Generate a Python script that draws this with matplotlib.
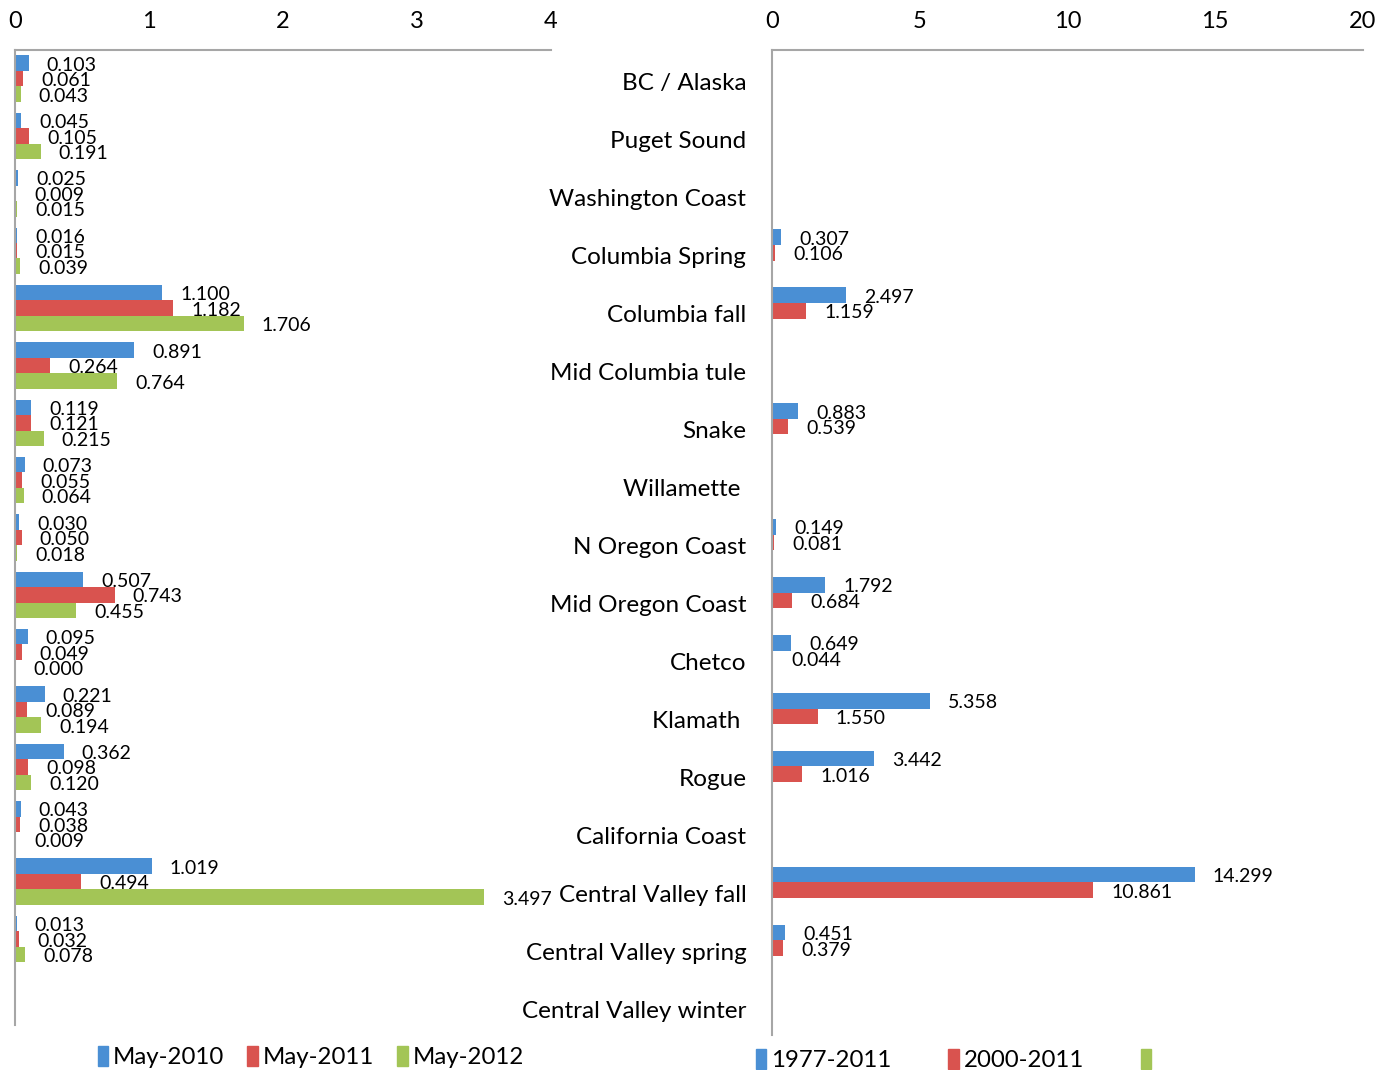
import numpy as np
import matplotlib
matplotlib.use("Agg")
import matplotlib.pyplot as plt
import matplotlib.transforms as mtransforms
from matplotlib.patches import Patch

plt.rcParams['font.family'] = ['Lato', 'DejaVu Sans']

categories = ["BC / Alaska", "Puget Sound", "Washington Coast", "Columbia Spring",
              "Columbia fall", "Mid Columbia tule", "Snake", "Willamette ",
              "N Oregon Coast", "Mid Oregon Coast", "Chetco", "Klamath ",
              "Rogue", "California Coast", "Central Valley fall",
              "Central Valley spring", "Central Valley winter"]

# left panel: May samples
may_2010 = [0.103, 0.045, 0.025, 0.016, 1.100, 0.891, 0.119, 0.073, 0.030,
            0.507, 0.095, 0.221, 0.362, 0.043, 1.019, 0.013, np.nan]
may_2011 = [0.061, 0.105, 0.009, 0.015, 1.182, 0.264, 0.121, 0.055, 0.050,
            0.743, 0.049, 0.089, 0.098, 0.038, 0.494, 0.032, np.nan]
may_2012 = [0.043, 0.191, 0.015, 0.039, 1.706, 0.764, 0.215, 0.064, 0.018,
            0.455, 0.000, 0.194, 0.120, 0.009, 3.497, 0.078, np.nan]
left_labels = ["May-2010", "May-2011", "May-2012"]

# right panel: long term periods
p_1977_2011 = [np.nan, np.nan, np.nan, 0.307, 2.497, np.nan, 0.883, np.nan, 0.149,
               1.792, 0.649, 5.358, 3.442, np.nan, 14.299, 0.451, np.nan]
p_2000_2011 = [np.nan, np.nan, np.nan, 0.106, 1.159, np.nan, 0.539, np.nan, 0.081,
               0.684, 0.044, 1.550, 1.016, np.nan, 10.861, 0.379, np.nan]
p_empty = [np.nan] * 17
right_labels = ["1977-2011", "2000-2011", ""]

colors = ["#4a8fd4", "#d9534f", "#a3c556"]
gray = "#a6a6a6"

fig = plt.figure(figsize=(13.87, 10.70), dpi=100)
ax1 = fig.add_axes([15 / 1387, 1 - 1025 / 1070, 536 / 1387, 975 / 1070])
ax2 = fig.add_axes([772 / 1387, 1 - 1035 / 1070, 591 / 1387, 985 / 1070])

y = np.arange(len(categories))
h = 0.27


def draw(ax, series, xmax, step):
    for k, vals in enumerate(series):
        vals = np.array(vals, dtype=float)
        pos = y + (k - 1) * h
        ax.barh(pos, np.nan_to_num(vals), height=h, color=colors[k], linewidth=0)
        for p, v in zip(pos, vals):
            if np.isnan(v):
                continue
            ax.annotate(f"{v:.3f}", (v, p), xytext=(13, -1.5), textcoords="offset points",
                        va="center", ha="left", fontsize=14)
    ax.set_xlim(0, xmax)
    ax.set_ylim(len(categories) - 0.5, -0.5)
    ax.set_xticks(np.arange(0, xmax + step, step))
    ax.xaxis.tick_top()
    ax.tick_params(axis="x", length=0, labelsize=17, pad=13)
    for s in ["right", "bottom"]:
        ax.spines[s].set_visible(False)
    for s in ["top", "left"]:
        ax.spines[s].set_color(gray)
        ax.spines[s].set_linewidth(1.5)


draw(ax1, [may_2010, may_2011, may_2012], 4, 1)
ax1.set_yticks([])

draw(ax2, [p_1977_2011, p_2000_2011, p_empty], 20, 5)
ax2.set_yticks(y)
ax2.set_yticklabels(categories, fontsize=17.5)
ax2.tick_params(axis="y", length=0, pad=18.5)
shift = mtransforms.ScaledTranslation(0, -3 / 100, fig.dpi_scale_trans)
for lab in ax2.get_yticklabels():
    lab.set_transform(lab.get_transform() + shift)

h1 = [Patch(color=c) for c in colors]
fig.legend(h1, left_labels, loc="center left", bbox_to_anchor=(88 / 1387, 1 - 1057 / 1070),
           ncol=3, frameon=False, fontsize=17.3, handlelength=0.45, handleheight=0.9,
           handletextpad=0.2, columnspacing=0.95, borderaxespad=0)
fig.legend(h1, right_labels, loc="center left", bbox_to_anchor=(746 / 1387, 1 - 1060 / 1070),
           ncol=3, frameon=False, fontsize=17.3, handlelength=0.45, handleheight=0.9,
           handletextpad=0.2, columnspacing=2.35, borderaxespad=0)

fig.savefig("out.png", dpi=100)
